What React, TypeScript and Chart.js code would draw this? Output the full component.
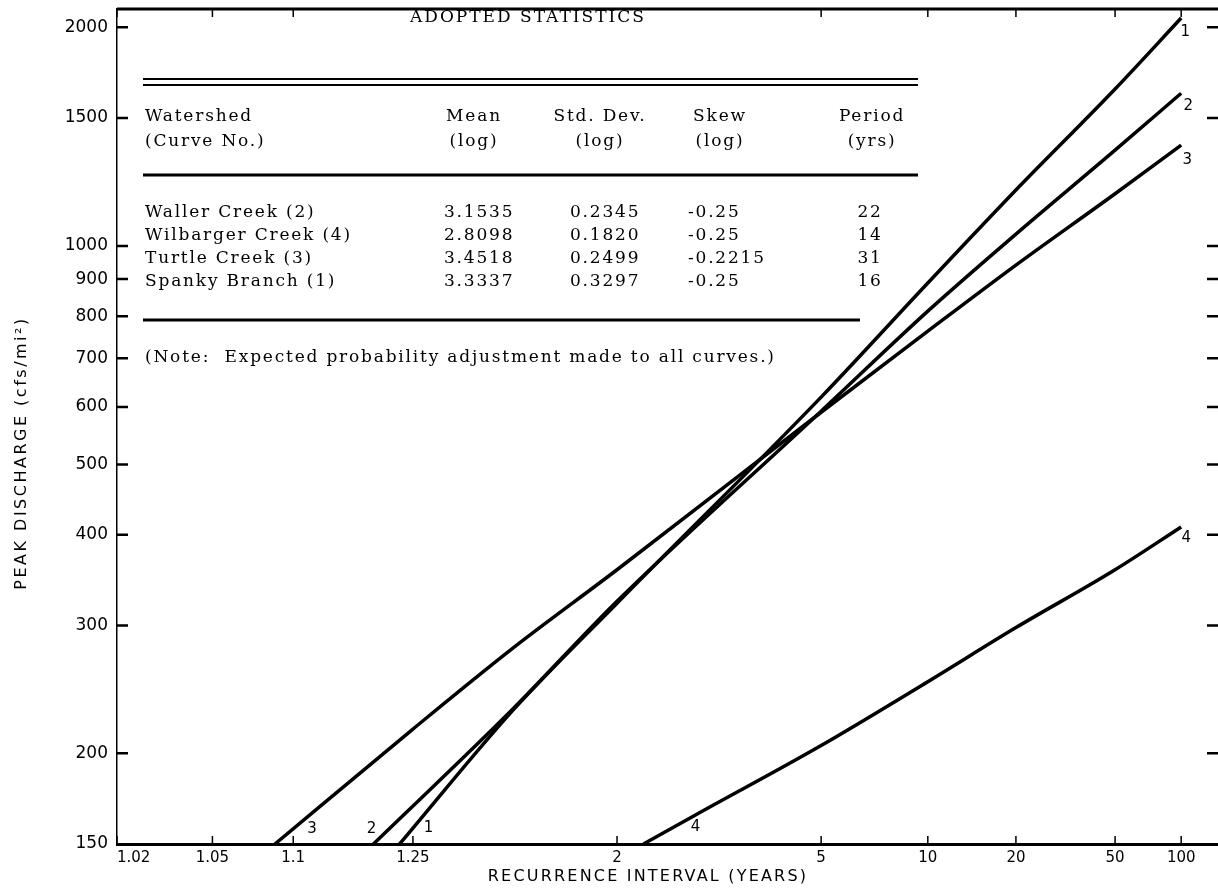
import React, { useEffect, useRef } from "react";
import { Chart, registerables } from "chart.js";

Chart.register(...registerables);

// ---------------- Data ----------------
const xTickYears = [1.02, 1.05, 1.1, 1.25, 2, 5, 10, 20, 50, 100];
const xTickLabels = ["1.02", "1.05", "1.1", "1.25", "2", "5", "10", "20", "50", "100"];
const yTickValues = [150, 200, 300, 400, 500, 600, 700, 800, 900, 1000, 1500, 2000];

const curve1Years = [1.227, 1.5, 2, 5, 10, 20, 50, 100];
const curve1Peak = [150, 229, 322, 619, 889, 1194, 1645, 2060];
const curve2Years = [1.187, 1.5, 2, 5, 10, 20, 50, 100];
const curve2Peak = [150, 230, 324, 592, 813, 1038, 1355, 1623];
const curve3Years = [1.086, 1.25, 1.5, 2, 5, 10, 20, 50, 100];
const curve3Peak = [150, 216, 279, 358, 590, 763, 941, 1180, 1377];
const curve4Years = [2.19, 2.7, 5, 10, 20, 50, 100];
const curve4Peak = [150, 165, 205, 251, 298, 358, 410];
const curveNumbers = ["1", "2", "3", "4"];

const tableTitle = "ADOPTED STATISTICS";
const headerWatershed = ["Watershed", "(Curve No.)"];
const headerMean = ["Mean", "(log)"];
const headerStd = ["Std. Dev.", "(log)"];
const headerSkew = ["Skew", "(log)"];
const headerPeriod = ["Period", "(yrs)"];
const watershedNames = ["Waller Creek (2)", "Wilbarger Creek (4)", "Turtle Creek (3)", "Spanky Branch (1)"];
const meanLog = ["3.1535", "2.8098", "3.4518", "3.3337"];
const stdDevLog = ["0.2345", "0.1820", "0.2499", "0.3297"];
const skewLog = ["-0.25", "-0.25", "-0.2215", "-0.25"];
const periodYrs = ["22", "14", "31", "16"];
const noteText = "(Note:  Expected probability adjustment made to all curves.)";
const xTitle = "RECURRENCE INTERVAL (YEARS)";
const yTitle = "PEAK DISCHARGE (cfs/mi\u00B2)";

// ---------------- Probability transform ----------------
function normInv(p: number): number {
  const a = [-3.969683028665376e1, 2.209460984245205e2, -2.759285104469687e2, 1.38357751867269e2, -3.066479806614716e1, 2.506628277459239];
  const b = [-5.447609879822406e1, 1.615858368580409e2, -1.556989798598866e2, 6.680131188771972e1, -1.328068155288572e1];
  const c = [-7.784894002430293e-3, -3.223964580411365e-1, -2.400758277161838, -2.549732539343734, 4.374664141464968, 2.938163982698783];
  const d = [7.784695709041462e-3, 3.224671290700398e-1, 2.445134137142996, 3.754408661907416];
  const pl = 0.02425;
  const ph = 1 - pl;
  if (p < pl) {
    const q = Math.sqrt(-2 * Math.log(p));
    return (((((c[0] * q + c[1]) * q + c[2]) * q + c[3]) * q + c[4]) * q + c[5]) / ((((d[0] * q + d[1]) * q + d[2]) * q + d[3]) * q + 1);
  }
  if (p <= ph) {
    const q = p - 0.5;
    const r = q * q;
    return ((((((a[0] * r + a[1]) * r + a[2]) * r + a[3]) * r + a[4]) * r + a[5]) * q) / (((((b[0] * r + b[1]) * r + b[2]) * r + b[3]) * r + b[4]) * r + 1);
  }
  const q = Math.sqrt(-2 * Math.log(1 - p));
  return -(((((c[0] * q + c[1]) * q + c[2]) * q + c[3]) * q + c[4]) * q + c[5]) / ((((d[0] * q + d[1]) * q + d[2]) * q + d[3]) * q + 1);
}
const zOf = (t: number) => normInv(1 - 1 / t);

const X_MIN = zOf(1.02);
const X_MAX = 2.474;

function makeSeries(years: number[], peaks: number[]) {
  return years.map((t, i) => ({ x: zOf(t), y: peaks[i] }));
}

const SERIF = '"DejaVu Serif", serif';
const SANS = '"DejaVu Sans", sans-serif';

const overlayPlugin = {
  id: "overlay",
  afterDraw(chart: any) {
    const ctx = chart.ctx as CanvasRenderingContext2D;
    const xs = chart.scales.x;
    const ys = chart.scales.y;
    const area = chart.chartArea;
    ctx.save();
    ctx.strokeStyle = "#000";
    ctx.fillStyle = "#000";
    ctx.lineCap = "butt";

    // top border
    ctx.lineWidth = 3;
    ctx.beginPath();
    ctx.moveTo(area.left, area.top);
    ctx.lineTo(area.right + 2, area.top);
    ctx.stroke();

    // x ticks bottom/top (inward); top ticks hidden under the table title
    ctx.lineWidth = 1.5;
    xTickYears.forEach((t) => {
      const px = xs.getPixelForValue(zOf(t));
      ctx.beginPath();
      ctx.moveTo(px, area.bottom);
      ctx.lineTo(px, area.bottom - 8);
      if (px < 400 || px > 660) {
        ctx.moveTo(px, area.top);
        ctx.lineTo(px, area.top + 8);
      }
      ctx.stroke();
    });
    // y ticks left/right (inward)
    ctx.lineWidth = 2.5;
    yTickValues.forEach((v) => {
      if (v === 150) return;
      const py = ys.getPixelForValue(v);
      ctx.beginPath();
      ctx.moveTo(area.left, py);
      ctx.lineTo(area.left + 11, py);
      ctx.moveTo(area.right - 10, py);
      ctx.lineTo(area.right + 1, py);
      ctx.stroke();
    });

    // curve number labels
    const series = [
      [curve1Years, curve1Peak],
      [curve2Years, curve2Peak],
      [curve3Years, curve3Peak],
      [curve4Years, curve4Peak],
    ];
    const startOff = [[29, -16], [-2, -15], [37, -15], [52, -17]];
    const endOff = [[4, 14], [7, 13], [6, 15], [5, 11]];
    ctx.font = `15px ${SANS}`;
    ctx.textAlign = "center";
    ctx.textBaseline = "middle";
    series.forEach((s, i) => {
      const yrs = s[0];
      const pk = s[1];
      const x0 = xs.getPixelForValue(zOf(yrs[0]));
      const y0 = ys.getPixelForValue(pk[0]);
      const x1 = xs.getPixelForValue(zOf(yrs[yrs.length - 1]));
      const y1 = ys.getPixelForValue(pk[pk.length - 1]);
      ctx.fillText(curveNumbers[i], x0 + startOff[i][0], y0 + startOff[i][1]);
      ctx.fillText(curveNumbers[i], x1 + endOff[i][0], y1 + endOff[i][1]);
    });

    // axis titles
    ctx.font = `16px ${SANS}`;
    (ctx as any).letterSpacing = "2.2px";
    ctx.textAlign = "center";
    ctx.fillText(xTitle, 648, 877);
    (ctx as any).letterSpacing = "2.5px";
    ctx.save();
    ctx.translate(22, 453);
    ctx.rotate(-Math.PI / 2);
    ctx.fillText(yTitle, 0, 0);
    ctx.restore();

    // table
    ctx.font = `17px ${SERIF}`;
    (ctx as any).letterSpacing = "2px";
    ctx.textAlign = "left";
    ctx.fillText(tableTitle, 410, 18);
    (ctx as any).letterSpacing = "1.8px";

    ctx.lineWidth = 2;
    ctx.beginPath();
    ctx.moveTo(143, 79);
    ctx.lineTo(918, 79);
    ctx.moveTo(143, 85);
    ctx.lineTo(918, 85);
    ctx.stroke();
    ctx.lineWidth = 3;
    ctx.beginPath();
    ctx.moveTo(143, 175);
    ctx.lineTo(918, 175);
    ctx.moveTo(143, 320);
    ctx.lineTo(860, 320);
    ctx.stroke();

    const hy = [117, 142];
    ctx.textAlign = "left";
    headerWatershed.forEach((t, i) => ctx.fillText(t, 145, hy[i]));
    ctx.textAlign = "center";
    headerMean.forEach((t, i) => ctx.fillText(t, 474, hy[i]));
    headerStd.forEach((t, i) => ctx.fillText(t, 600, hy[i]));
    headerSkew.forEach((t, i) => ctx.fillText(t, 720, hy[i]));
    headerPeriod.forEach((t, i) => ctx.fillText(t, 872, hy[i]));

    const ry = [213, 236, 259, 282];
    watershedNames.forEach((n, i) => {
      ctx.textAlign = "left";
      ctx.fillText(n, 145, ry[i]);
      ctx.fillText(meanLog[i], 444, ry[i]);
      ctx.fillText(stdDevLog[i], 570, ry[i]);
      ctx.fillText(skewLog[i], 688, ry[i]);
      ctx.textAlign = "center";
      ctx.fillText(periodYrs[i], 870, ry[i]);
    });
    ctx.textAlign = "left";
    ctx.fillText(noteText, 145, 358);

    (ctx as any).letterSpacing = "0px";
    ctx.restore();
  },
};

export default function App() {
  const ref = useRef<HTMLCanvasElement | null>(null);

  useEffect(() => {
    document.body.style.margin = "0";
    document.body.style.background = "#fff";
    const canvas = ref.current;
    if (!canvas) return;
    const lineStyle = {
      borderColor: "#000",
      backgroundColor: "#000",
      borderWidth: 3.5,
      pointRadius: 0,
      fill: false,
      cubicInterpolationMode: "monotone" as const,
    };
    const chart = new Chart(canvas, {
      type: "line",
      data: {
        datasets: [
          { label: "1", data: makeSeries(curve1Years, curve1Peak), ...lineStyle },
          { label: "2", data: makeSeries(curve2Years, curve2Peak), ...lineStyle },
          { label: "3", data: makeSeries(curve3Years, curve3Peak), ...lineStyle },
          { label: "4", data: makeSeries(curve4Years, curve4Peak), ...lineStyle },
        ],
      },
      options: {
        animation: false,
        responsive: false,
        devicePixelRatio: 1,
        parsing: false as any,
        layout: { padding: { top: 9, right: 1, left: 0, bottom: 0 } },
        plugins: { legend: { display: false }, tooltip: { enabled: false } },
        scales: {
          x: {
            type: "linear",
            min: X_MIN,
            max: X_MAX,
            grid: { display: false, drawTicks: false },
            border: { display: true, color: "#000", width: 3 },
            afterBuildTicks: (scale: any) => {
              scale.ticks = [...xTickYears.map((t) => ({ value: zOf(t) })), { value: X_MAX }];
            },
            afterFit: (scale: any) => {
              scale.height = 44;
              scale.paddingLeft = 0;
              scale.paddingRight = 0;
              scale.paddingTop = 0;
              scale.paddingBottom = 0;
            },
            ticks: {
              autoSkip: false,
              maxRotation: 0,
              align: "inner",
              padding: 5,
              color: "#000",
              font: { family: SANS, size: 15 },
              callback: (_v: any, i: number) => (i < xTickLabels.length ? xTickLabels[i] : ""),
            },
          },
          y: {
            type: "logarithmic",
            min: 150,
            max: 2120,
            grid: { display: false, drawTicks: false },
            border: { display: true, color: "#000", width: 1.5 },
            afterBuildTicks: (scale: any) => {
              scale.ticks = yTickValues.map((v) => ({ value: v }));
            },
            afterFit: (scale: any) => {
              scale.width = 117;
              scale.paddingLeft = 0;
              scale.paddingRight = 0;
              scale.paddingTop = 0;
              scale.paddingBottom = 0;
            },
            ticks: {
              autoSkip: false,
              padding: 9,
              color: "#000",
              font: { family: SANS, size: 17 },
              callback: (v: any) => String(v),
            },
          },
        },
      },
      plugins: [overlayPlugin],
    });
    return () => chart.destroy();
  }, []);

  return (
    <div style={{ width: 1218, height: 888, background: "#fff" }}>
      <canvas ref={ref} width={1218} height={888} style={{ display: "block", width: 1218, height: 888 }} />
    </div>
  );
}
